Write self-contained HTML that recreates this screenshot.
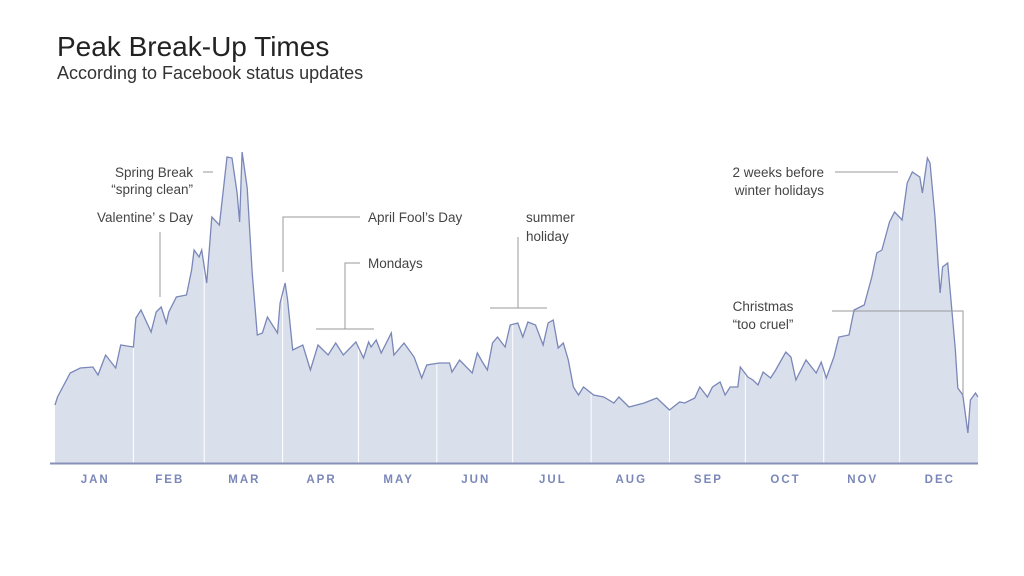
<!DOCTYPE html>
<html><head><meta charset="utf-8"><style>
body{margin:0;background:#fff;font-family:"Liberation Sans",sans-serif}
svg{display:block}
.ann{font-size:13.5px;fill:#444}
.ml{font-size:11.5px;font-weight:bold;fill:#7a87b8;letter-spacing:2px}
</style></head><body>
<svg width="1024" height="576">
<text x="57" y="56" font-size="28" fill="#222">Peak Break-Up Times</text>
<text x="57" y="79" font-size="18" fill="#333">According to Facebook status updates</text>
<g id="plot"></g>
<g stroke="#999" stroke-width="1" fill="none">
<line x1="203" y1="172" x2="213" y2="172"/>
<line x1="160" y1="232" x2="160" y2="297"/>
<polyline points="283,272 283,217 360,217"/>
<polyline points="345,329 345,263 360,263"/>
<line x1="316" y1="329" x2="374" y2="329"/>
<line x1="518" y1="237" x2="518" y2="308"/>
<line x1="490" y1="308" x2="547" y2="308"/>
<line x1="835" y1="172" x2="898" y2="172"/>
<polyline points="832,311 963,311 963,395"/>
</g>
<g class="ann">
<text x="193" y="177" text-anchor="end">Spring Break</text>
<text x="193" y="194" text-anchor="end">“spring clean”</text>
<text x="193" y="222" text-anchor="end">Valentine’ s Day</text>
<text x="368" y="222">April Fool’s Day</text>
<text x="368" y="268">Mondays</text>
<text x="526" y="222">summer</text>
<text x="526" y="241">holiday</text>
<text x="824" y="177" text-anchor="end">2 weeks before</text>
<text x="824" y="195" text-anchor="end">winter holidays</text>
<text x="763" y="311" text-anchor="middle">Christmas</text>
<text x="763" y="329" text-anchor="middle">“too cruel”</text>
</g>
</svg>
<script>
const days=[0,1,6,10,15,17,20,24,26,31,32,34,38,40,42,44,45,48,52,54,55,57,58,60,62,65,68,70,72,73,74,76,78,80,82,84,88,89,91,92,94,98,101,104,108,111,114,119,122,124,125,127,129,133,134,138,142,145,147,152,156,157,160,165,167,169,171,173,175,178,180,183,185,187,190,193,195,197,199,201,203,205,207,209,213,217,221,223,227,233,238,243,247,249,253,255,258,260,263,265,267,270,271,274,276,278,280,283,285,289,291,293,297,301,303,305,308,310,314,316,320,323,325,327,330,332,335,337,339,342,343,345,346,348,350,351,353,356,357,359,361,362,364,365];
const values=[58,66,90,95,96,88,108,95,118,116,145,153,131,151,156,140,151,166,168,193,213,206,213,180,246,238,306,305,270,241,311,275,190,128,130,146,130,160,180,163,113,118,93,118,108,120,108,121,105,121,116,123,110,130,108,120,106,85,98,100,100,91,103,90,110,101,93,120,126,116,138,140,126,141,138,118,140,143,115,120,103,76,68,76,68,66,60,66,56,60,65,53,61,60,65,76,66,76,81,68,76,76,96,86,83,78,91,85,93,111,106,83,103,90,101,85,106,126,128,153,158,186,210,213,241,251,243,280,291,286,270,305,300,246,170,196,200,115,75,68,30,63,70,66];
const months=["JAN","FEB","MAR","APR","MAY","JUN","JUL","AUG","SEP","OCT","NOV","DEC"];
const monthStarts=[0,31,59,90,120,151,181,212,243,273,304,334,365];
const X=d=>55+d*923/365, Y=v=>463-v;
const ns="http://www.w3.org/2000/svg", g=document.getElementById('plot');
let pts=days.map((d,i)=>X(d).toFixed(1)+','+Y(values[i]).toFixed(1)).join(' ');
const area=document.createElementNS(ns,'polygon');
area.setAttribute('points',X(0)+','+Y(0)+' '+pts+' '+X(365)+','+Y(0));
area.setAttribute('fill','#d9e0ec');


g.appendChild(area);
for(let i=1;i<12;i++){const l=document.createElementNS(ns,'line');
l.setAttribute('x1',X(monthStarts[i]));l.setAttribute('x2',X(monthStarts[i]));
l.setAttribute('y1',150);l.setAttribute('y2',463);l.setAttribute('stroke','#fff');l.setAttribute('stroke-width','1');


g.appendChild(l);}
const line=document.createElementNS(ns,'polyline');
line.setAttribute('points',pts);line.setAttribute('fill','none');line.setAttribute('stroke','#7a87b8');line.setAttribute('stroke-width','1.3');


g.appendChild(line);
const ax=document.createElementNS(ns,'line');
ax.setAttribute('x1',50);ax.setAttribute('x2',978);ax.setAttribute('y1',463.5);ax.setAttribute('y2',463.5);ax.setAttribute('stroke','#8890b8');ax.setAttribute('stroke-width','2');


g.appendChild(ax);
months.forEach((m,i)=>{const t=document.createElementNS(ns,'text');
t.setAttribute('x',X((monthStarts[i]+monthStarts[i+1])/2)+1);t.setAttribute('y',483);t.setAttribute('text-anchor','middle');t.setAttribute('class','ml');
t.textContent=m;


g.appendChild(t);});
</script>
</body></html>
